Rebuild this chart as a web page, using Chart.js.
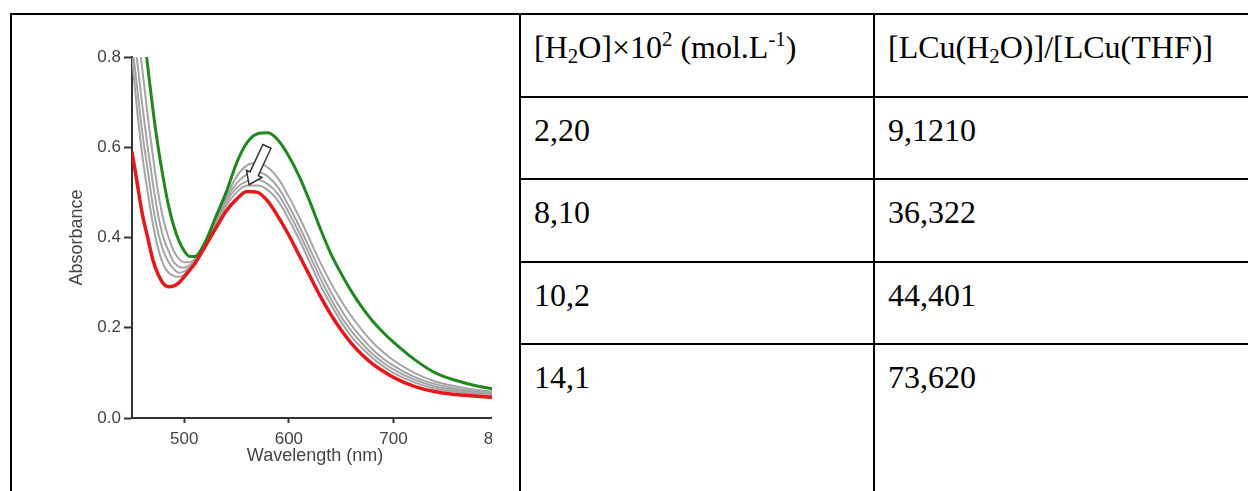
<!DOCTYPE html>
<html>
<head>
<meta charset="utf-8">
<title>LCu titration</title>
<script src="https://cdn.jsdelivr.net/npm/chart.js@4.4.1/dist/chart.umd.min.js"></script>
<style>
  html, body { margin: 0; padding: 0; background: #fff; width: 1248px; height: 491px; overflow: hidden; }
  #sheet {
    position: absolute; left: 10px; top: 13px;
    display: grid;
    grid-template-columns: 509px 354px 420px;
    grid-template-rows: 83px 82px 83px 82px 200px;
    font-family: "Liberation Serif", "Times New Roman", serif;
    font-size: 32px; line-height: 1.15; color: #000;
  }
  #sheet > div {
    box-sizing: border-box;
    border-left: 2px solid #000;
    border-top: 2px solid #000;
    padding: 14px 0 0 13px;
    white-space: nowrap;
  }
  #sheet .plot-cell { grid-column: 1; grid-row: 1 / 6; padding: 0; position: relative; }
  sub, sup { font-size: 0.65em; line-height: 0; }
  sub { vertical-align: -0.22em; }
  sup { vertical-align: 0.6em; }
  #plot { position: absolute; left: 48px; top: 0px; width: 432px; height: 476px; overflow: hidden; }
  #plot canvas { position: absolute; left: 0; top: 0; }
</style>
</head>
<body>
<div id="sheet">
  <div class="plot-cell"><div id="plot"><canvas id="spectra" width="480" height="452"></canvas></div></div>
</div>

<script>
// UV-vis spectra, absorbance vs wavelength (nm)
const wavelengths = [450, 455, 460, 465, 470, 475, 480, 485, 490, 495, 500, 505, 510,
  520, 530, 540, 550, 560, 570, 580, 590, 600, 610, 620, 630, 640, 650, 660, 670, 680, 690, 700,
  720, 740, 760, 780, 800];

const absGreen = [1.08, 0.98, 0.88, 0.78, 0.683, 0.60, 0.53, 0.47, 0.425, 0.392, 0.37, 0.358, 0.358,
  0.39, 0.445, 0.50, 0.565, 0.61, 0.63, 0.632, 0.615, 0.58, 0.535, 0.48, 0.42, 0.365, 0.32, 0.28, 0.245, 0.215, 0.19, 0.168,
  0.13, 0.10, 0.083, 0.071, 0.063];
const absGrey1 = [0.97, 0.87, 0.77, 0.67, 0.58, 0.50, 0.44, 0.40, 0.37, 0.352, 0.345, 0.345, 0.352,
  0.385, 0.435, 0.49, 0.535, 0.56, 0.565, 0.555, 0.53, 0.49, 0.445, 0.395, 0.345, 0.30, 0.26, 0.225, 0.195, 0.168, 0.146, 0.128,
  0.10, 0.081, 0.07, 0.062, 0.057];
const absGrey2 = [0.88, 0.79, 0.69, 0.60, 0.52, 0.45, 0.40, 0.37, 0.345, 0.335, 0.333, 0.338, 0.348,
  0.383, 0.43, 0.485, 0.52, 0.54, 0.545, 0.535, 0.51, 0.47, 0.425, 0.375, 0.325, 0.28, 0.24, 0.205, 0.177, 0.152, 0.132, 0.116,
  0.091, 0.075, 0.065, 0.058, 0.054];
const absGrey3 = [0.83, 0.73, 0.63, 0.55, 0.47, 0.41, 0.37, 0.345, 0.33, 0.322, 0.325, 0.333, 0.346,
  0.382, 0.428, 0.478, 0.51, 0.525, 0.528, 0.518, 0.495, 0.455, 0.41, 0.36, 0.31, 0.265, 0.225, 0.192, 0.165, 0.142, 0.123, 0.108,
  0.085, 0.07, 0.062, 0.055, 0.051];
const absGrey4 = [0.80, 0.68, 0.58, 0.50, 0.43, 0.375, 0.34, 0.322, 0.315, 0.313, 0.318, 0.33, 0.344,
  0.381, 0.425, 0.47, 0.50, 0.515, 0.515, 0.505, 0.48, 0.44, 0.395, 0.345, 0.295, 0.252, 0.213, 0.18, 0.155, 0.133, 0.115, 0.10,
  0.079, 0.065, 0.058, 0.052, 0.049];
const absRed = [0.59, 0.52, 0.45, 0.40, 0.35, 0.318, 0.298, 0.291, 0.293, 0.30, 0.313, 0.327, 0.342,
  0.38, 0.42, 0.458, 0.485, 0.502, 0.50, 0.48, 0.445, 0.405, 0.36, 0.315, 0.27, 0.23, 0.195, 0.165, 0.14, 0.12, 0.104, 0.09,
  0.07, 0.058, 0.052, 0.048, 0.045];

const xTicks = [500, 600, 700, 800];
const yTicks = [0, 0.2, 0.4, 0.6, 0.8];

// arrow showing the direction of change while water is added
const arrowFrom = { x: 579, y: 0.602 };
const arrowTo = { x: 562, y: 0.517 };

// table columns
const waterConc = ["2,20", "8,10", "10,2", "14,1"];
const ratioValues = ["9,1210", "36,322", "44,401", "73,620"];

// === table ===
const sheet = document.getElementById("sheet");
function addCell(html) {
  const cell = document.createElement("div");
  cell.innerHTML = html;
  sheet.appendChild(cell);
}
addCell("[H<sub>2</sub>O]&times;10<sup>2</sup> (mol.L<sup>-1</sup>)");
addCell("[LCu(H<sub>2</sub>O)]/[LCu(THF)]");
waterConc.forEach((w, i) => {
  addCell(w);
  addCell(ratioValues[i]);
});

// === spectra ===
const toPoints = ys => ys.map((y, i) => ({ x: wavelengths[i], y }));

const series = [
  { data: absRed, color: "#e3191c", width: 3.5, order: 0 },
  { data: absGreen, color: "#23871f", width: 3, order: 1 },
  { data: absGrey1, color: "#a4a4a4", width: 2, order: 2 },
  { data: absGrey2, color: "#a4a4a4", width: 2, order: 2 },
  { data: absGrey3, color: "#a4a4a4", width: 2, order: 2 },
  { data: absGrey4, color: "#a4a4a4", width: 2, order: 2 }
];

const arrowPlugin = {
  id: "arrow",
  afterDatasetsDraw(chart) {
    const { ctx, scales: { x, y } } = chart;
    const x0 = x.getPixelForValue(arrowFrom.x), y0 = y.getPixelForValue(arrowFrom.y);
    const x1 = x.getPixelForValue(arrowTo.x), y1 = y.getPixelForValue(arrowTo.y);
    const len = Math.hypot(x1 - x0, y1 - y0);
    const ux = (x1 - x0) / len, uy = (y1 - y0) / len;
    const nx = -uy, ny = ux;
    const shaft = 4.5, head = 8.5, headLen = 12;
    const bx = x1 - ux * headLen, by = y1 - uy * headLen;
    ctx.save();
    ctx.beginPath();
    ctx.moveTo(x0 + nx * shaft, y0 + ny * shaft);
    ctx.lineTo(bx + nx * shaft, by + ny * shaft);
    ctx.lineTo(bx + nx * head, by + ny * head);
    ctx.lineTo(x1, y1);
    ctx.lineTo(bx - nx * head, by - ny * head);
    ctx.lineTo(bx - nx * shaft, by - ny * shaft);
    ctx.lineTo(x0 - nx * shaft, y0 - ny * shaft);
    ctx.closePath();
    ctx.fillStyle = "#fff";
    ctx.fill();
    ctx.lineWidth = 1.5;
    ctx.strokeStyle = "#333";
    ctx.stroke();
    ctx.restore();
  }
};

const axisFont = { family: "'Liberation Sans', Arial, sans-serif", size: 17 };
const titleFont = { family: "'Liberation Sans', Arial, sans-serif", size: 18 };
const textColor = "#444";

new Chart(document.getElementById("spectra"), {
  type: "line",
  data: {
    datasets: series.map(s => ({
      data: toPoints(s.data),
      borderColor: s.color,
      borderWidth: s.width,
      pointRadius: 0,
      fill: false,
      cubicInterpolationMode: "monotone",
      order: s.order
    }))
  },
  options: {
    responsive: false,
    animation: false,
    events: [],
    layout: { padding: { top: 42, right: 42, left: 0, bottom: 0 } },
    plugins: { legend: { display: false }, tooltip: { enabled: false } },
    scales: {
      x: {
        type: "linear",
        min: 450,
        max: 800,
        afterFit: s => { s.height = 49; },
        afterBuildTicks: s => { s.ticks = xTicks.map(v => ({ value: v })); },
        ticks: { font: axisFont, color: textColor, padding: 6, maxRotation: 0 },
        grid: { drawOnChartArea: false, tickLength: 5, tickWidth: 2, tickColor: "#333" },
        border: { color: "#333", width: 2 },
        title: { display: true, text: "Wavelength (nm)", font: titleFont, color: textColor, padding: 0 }
      },
      y: {
        min: 0,
        max: 0.8,
        afterFit: s => { s.width = 72; },
        afterBuildTicks: s => { s.ticks = yTicks.map(v => ({ value: v })); },
        ticks: { font: axisFont, color: textColor, padding: 3, callback: v => v.toFixed(1) },
        grid: { drawOnChartArea: false, tickLength: 8, tickWidth: 2, tickColor: "#333" },
        border: { color: "#333", width: 2 },
        title: { display: true, text: "Absorbance", font: titleFont, color: textColor, padding: { top: 6, bottom: 0 } }
      }
    }
  },
  plugins: [arrowPlugin]
});
</script>
</body>
</html>
